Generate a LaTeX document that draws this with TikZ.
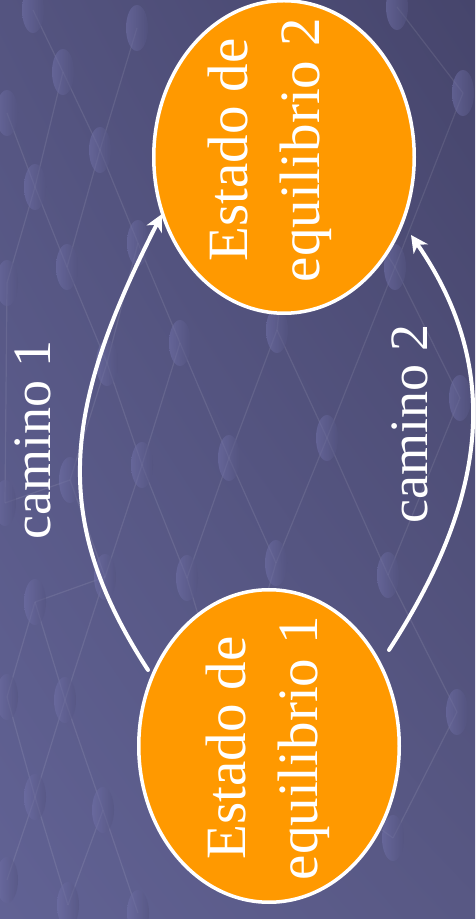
\documentclass[tikz,border=0pt]{standalone}
\usepackage{fontspec}
\setmainfont{Liberation Serif}
\usetikzlibrary{arrows.meta,shapes.geometric,shadings}

\definecolor{bgLL}{RGB}{97,98,148}
\definecolor{bgUL}{RGB}{84,84,128}
\definecolor{bgLR}{RGB}{88,88,132}
\definecolor{bgUR}{RGB}{70,69,108}
\definecolor{bubL}{RGB}{114,114,170}
\definecolor{bubR}{RGB}{84,84,128}
\definecolor{stateorange}{RGB}{255,153,0}

\tikzset{
  bubble/.style={left color=bubL, right color=bubR, fill opacity=0.55},
  strand/.style={draw=white, draw opacity=0.09, line width=1.2pt},
  state/.style={ellipse, draw=white, line width=3.5pt, fill=stateorange,
    minimum width=260.5pt, minimum height=312.5pt, inner sep=0pt},
  statelabel/.style={rotate=90, text=white, align=center,
    font=\fontsize{57}{72}\selectfont},
  pathlabel/.style={rotate=90, text=white, anchor=base, inner sep=0pt,
    font=\fontsize{54}{60}\selectfont},
  move/.style={white, line width=4pt, line cap=round,
    -{Stealth[length=17pt,width=17pt,inset=5pt]}},
}

\begin{document}
\begin{tikzpicture}[x=1pt,y=1pt]
  \useasboundingbox (0,0) rectangle (475,919);

  % background
  \shade[lower left=bgLL, upper left=bgUL, lower right=bgLR, upper right=bgUR]
    (0,0) rectangle (475,919);

  % molecular net in the background
  \foreach \n/\bx/\by in {A/33/10,B/137/28,C/63/72,D/7/113,E/100/150,F/35/187,
      G/67/267,H/138/243,I/397/7,J/463/93,K/395/267,L/7/283,M/180/343,
      N/277/330,O/327/438,P/229/458,Q/142/465,R/460/398,S/388/575,T/276/563,
      U/187/578,V/105/577,W/70/480,X/107/363,Y/5/503,Z/35/602,
      a/7/697,b/65/700,c/457/712,d/35/797,e/103/810,f/393/838,g/7/880,
      h/68/905,i/138/913,j/300/120,k/230/720}
    \coordinate (m\n) at (\bx,919-\by);
  \foreach \p/\q in {A/C,C/F,B/E,C/E,E/G,E/H,F/G,F/L,D/F,G/X,H/X,H/M,X/Q,X/W,
      M/Q,M/P,N/P,N/O,K/O,K/R,J/K,I/J,W/V,W/Y,Q/V,Q/U,P/U,P/T,O/T,O/S,R/S,
      V/Z,V/b,Z/b,Z/a,b/d,b/e,a/d,d/h,e/h,e/i,d/g,S/c,c/f,L/Y,j/N,j/K,
      U/k,T/k,k/f}
    \draw[strand] (m\p) -- (m\q);
  \foreach \n in {A,B,C,D,E,F,G,H,I,J,K,L,M,N,O,P,Q,R,S,T,U,V,W,X,Y,Z,
      a,b,c,d,e,f,g,h,i}
    \shade[bubble] (m\n) ellipse (11 and 23);

  % equilibrium states
  \node[state] (s1) at (269,173) {};
  \node[state] (s2) at (284,762) {};
  \node[statelabel] (t1) at (268,171) {Estado de\\equilibrio 1};
  \node[statelabel] (t2) at (270,769) {Estado de\\equilibrio 2};

  % paths between the states
  \coordinate (a1) at (148,249);
  \coordinate (b1) at (162,705);
  \coordinate (a2) at (389,269);
  \coordinate (b2) at (411,684);
  \draw[move] (a1) .. controls +(123:180) and +(243:220) .. (b1);
  \draw[move] (a2) .. controls +(57:170) and +(-55.4:170) .. (b2);

  \node[pathlabel] (c1) at (50,479) {camino 1};
  \node[pathlabel] (c2) at (427,495) {camino 2};
\end{tikzpicture}
\end{document}
